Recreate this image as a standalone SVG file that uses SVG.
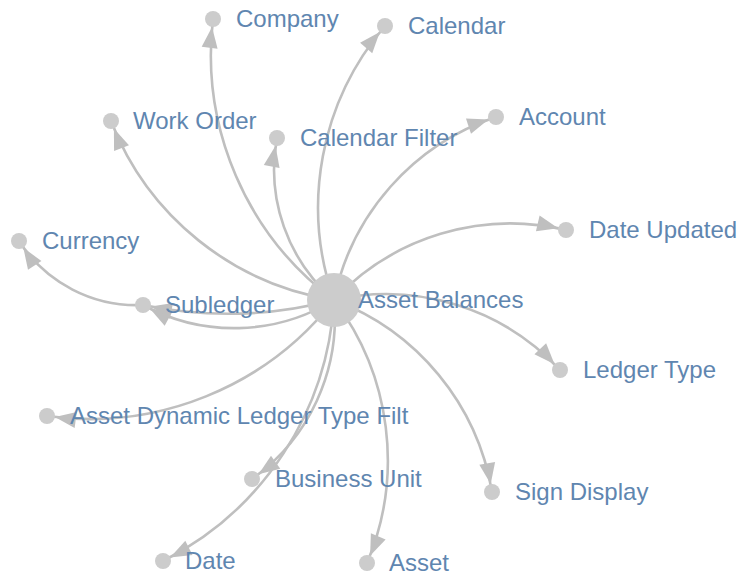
<svg xmlns="http://www.w3.org/2000/svg" width="747" height="577" viewBox="0 0 747 577">
<style>
.edge{fill:none;stroke:#bfbfbf;stroke-width:2.6}
.node circle{fill:#cccccc}
.node text{font-family:"Liberation Sans",Arial,sans-serif;font-size:24px;fill:#5f86b0}
</style>
<defs>
<marker id="arrow" markerUnits="userSpaceOnUse" viewBox="0 -8 21 16" markerWidth="21" markerHeight="16" refX="29" refY="0" orient="auto" overflow="visible">
<path d="M0,-8L21,0L0,8Z" fill="#bfbfbf"/>
</marker>
</defs>
<rect width="747" height="577" fill="#ffffff"/>
<g id="edges">
<path class="edge" marker-end="url(#arrow)" d="M334,300A306,306 0 0,1 213,19"/>
<path class="edge" marker-end="url(#arrow)" d="M334,300A279,279 0 0,1 385,26"/>
<path class="edge" marker-end="url(#arrow)" d="M334,300A286,286 0 0,1 111,121"/>
<path class="edge" marker-end="url(#arrow)" d="M334,300A172,172 0 0,1 277,138"/>
<path class="edge" marker-end="url(#arrow)" d="M334,300A244,244 0 0,1 496,117"/>
<path class="edge" marker-end="url(#arrow)" d="M334,300A242,242 0 0,1 566,230"/>
<path class="edge" marker-end="url(#arrow)" d="M334,300A191,191 0 0,1 143,305"/>
<path class="edge" marker-end="url(#arrow)" d="M334,300A420,420 0 0,1 143,305"/>
<path class="edge" marker-end="url(#arrow)" d="M334,300A237,237 0 0,1 560,370"/>
<path class="edge" marker-end="url(#arrow)" d="M334,300A249,249 0 0,1 492,492"/>
<path class="edge" marker-end="url(#arrow)" d="M334,300A265,265 0 0,1 367,563"/>
<path class="edge" marker-end="url(#arrow)" d="M334,300A197,197 0 0,1 252,479"/>
<path class="edge" marker-end="url(#arrow)" d="M334,300A312,312 0 0,1 163,561"/>
<path class="edge" marker-end="url(#arrow)" d="M334,300A310,310 0 0,1 47,416"/>
<path class="edge" marker-end="url(#arrow)" d="M143,305A140,140 0 0,1 19,241"/>
</g>
<g id="node-asset-balances" class="node"><circle cx="334" cy="300" r="27"/><text x="358" y="308">Asset Balances</text></g>
<g id="node-company" class="node"><circle cx="213" cy="19" r="8"/><text x="236" y="27">Company</text></g>
<g id="node-calendar" class="node"><circle cx="385" cy="26" r="8"/><text x="408" y="34">Calendar</text></g>
<g id="node-work-order" class="node"><circle cx="111" cy="121" r="8"/><text x="133" y="129">Work Order</text></g>
<g id="node-calendar-filter" class="node"><circle cx="277" cy="138" r="8"/><text x="300" y="146">Calendar Filter</text></g>
<g id="node-account" class="node"><circle cx="496" cy="117" r="8"/><text x="519" y="125">Account</text></g>
<g id="node-currency" class="node"><circle cx="19" cy="241" r="8"/><text x="42" y="249">Currency</text></g>
<g id="node-date-updated" class="node"><circle cx="566" cy="230" r="8"/><text x="589" y="238">Date Updated</text></g>
<g id="node-subledger" class="node"><circle cx="143" cy="305" r="8"/><text x="165" y="313">Subledger</text></g>
<g id="node-ledger-type" class="node"><circle cx="560" cy="370" r="8"/><text x="583" y="378">Ledger Type</text></g>
<g id="node-asset-dynamic" class="node"><circle cx="47" cy="416" r="8"/><text x="70" y="424">Asset Dynamic Ledger Type Filt</text></g>
<g id="node-business-unit" class="node"><circle cx="252" cy="479" r="8"/><text x="275" y="487">Business Unit</text></g>
<g id="node-sign-display" class="node"><circle cx="492" cy="492" r="8"/><text x="515" y="500">Sign Display</text></g>
<g id="node-date" class="node"><circle cx="163" cy="561" r="8"/><text x="185" y="569">Date</text></g>
<g id="node-asset" class="node"><circle cx="367" cy="563" r="8"/><text x="389" y="571">Asset</text></g>
</svg>
